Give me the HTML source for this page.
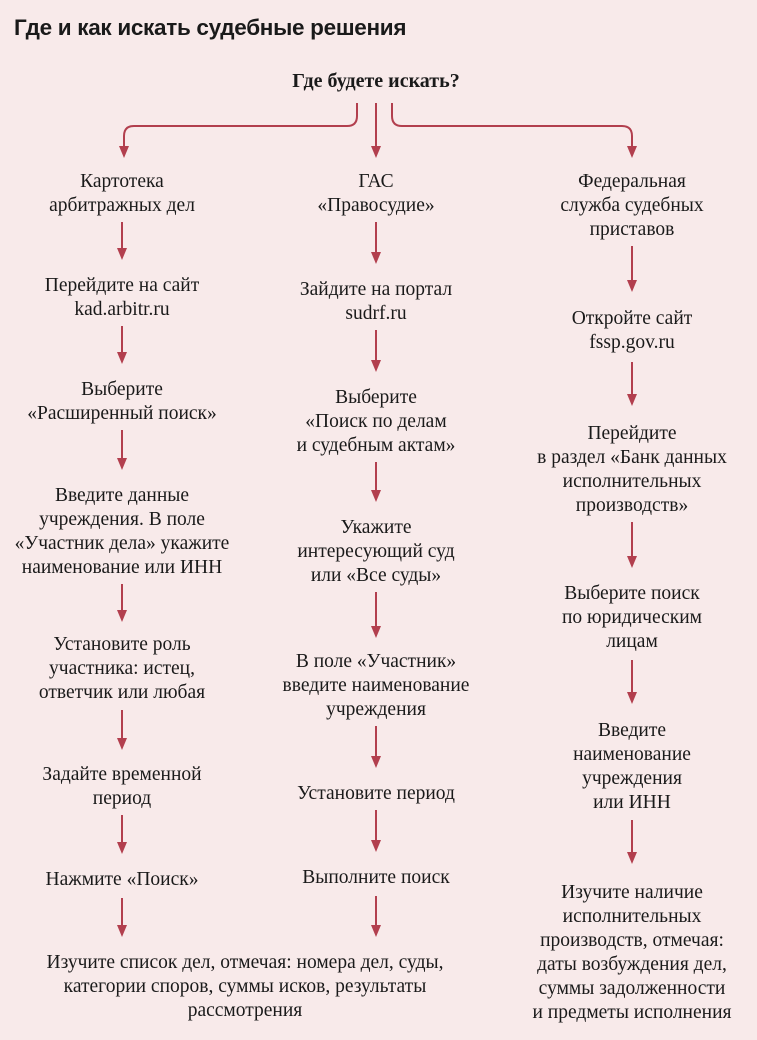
<!DOCTYPE html>
<html><head><meta charset="utf-8"><style>
html,body{margin:0;padding:0}
body{width:757px;height:1040px;background:#f8eaea;position:relative;overflow:hidden;font-family:"Liberation Serif",serif;color:#1a1a1a}
.t{position:absolute;font-family:"Liberation Sans",sans-serif;font-weight:bold;font-size:22.5px;left:14px;top:15px;letter-spacing:-0.3px}
.b{position:absolute;width:300px;text-align:center;font-size:19.5px;line-height:24px;white-space:nowrap}
svg{position:absolute;left:0;top:0}
</style></head><body>
<div class="t">Где и как искать судебные решения</div>
<div class="b" style="left:226px;top:69px;font-weight:bold;font-size:20px">Где будете искать?</div>
<svg width="757" height="1040">
<g stroke="#b23f4e" stroke-width="2" fill="none">
<path d="M357,103 V116 Q357,126 347,126 H134 Q124,126 124,136 V146"/>
<path d="M392,103 V116 Q392,126 402,126 H622 Q632,126 632,136 V146"/>
<line x1="376" y1="103" x2="376" y2="146"/>
<line x1="122" y1="222" x2="122" y2="248"/>
<line x1="122" y1="326" x2="122" y2="352"/>
<line x1="122" y1="430" x2="122" y2="458"/>
<line x1="122" y1="584" x2="122" y2="610"/>
<line x1="122" y1="710" x2="122" y2="738"/>
<line x1="122" y1="815" x2="122" y2="842"/>
<line x1="122" y1="898" x2="122" y2="925"/>
<line x1="376" y1="222" x2="376" y2="252"/>
<line x1="376" y1="330" x2="376" y2="360"/>
<line x1="376" y1="462" x2="376" y2="490"/>
<line x1="376" y1="592" x2="376" y2="626"/>
<line x1="376" y1="726" x2="376" y2="756"/>
<line x1="376" y1="810" x2="376" y2="840"/>
<line x1="376" y1="896" x2="376" y2="925"/>
<line x1="632" y1="246" x2="632" y2="280"/>
<line x1="632" y1="362" x2="632" y2="394"/>
<line x1="632" y1="522" x2="632" y2="556"/>
<line x1="632" y1="660" x2="632" y2="692"/>
<line x1="632" y1="820" x2="632" y2="852"/>
</g>
<g fill="#b23f4e">
<path d="M119,146h10l-5,12z"/><path d="M371,146h10l-5,12z"/><path d="M627,146h10l-5,12z"/>
<path d="M117,248h10l-5,12z"/><path d="M117,352h10l-5,12z"/><path d="M117,458h10l-5,12z"/><path d="M117,610h10l-5,12z"/><path d="M117,738h10l-5,12z"/><path d="M117,842h10l-5,12z"/><path d="M117,925h10l-5,12z"/>
<path d="M371,252h10l-5,12z"/><path d="M371,360h10l-5,12z"/><path d="M371,490h10l-5,12z"/><path d="M371,626h10l-5,12z"/><path d="M371,756h10l-5,12z"/><path d="M371,840h10l-5,12z"/><path d="M371,925h10l-5,12z"/>
<path d="M627,280h10l-5,12z"/><path d="M627,394h10l-5,12z"/><path d="M627,556h10l-5,12z"/><path d="M627,692h10l-5,12z"/><path d="M627,852h10l-5,12z"/>
</g>
</svg>
<div class="b" style="left:-28px;top:170px">Картотека<br>арбитражных дел</div>
<div class="b" style="left:-28px;top:274px">Перейдите на сайт<br>kad.arbitr.ru</div>
<div class="b" style="left:-28px;top:378px">Выберите<br>«Расширенный поиск»</div>
<div class="b" style="left:-28px;top:484px">Введите данные<br>учреждения. В поле<br>«Участник дела» укажите<br>наименование или ИНН</div>
<div class="b" style="left:-28px;top:633px">Установите роль<br>участника: истец,<br>ответчик или любая</div>
<div class="b" style="left:-28px;top:763px">Задайте временной<br>период</div>
<div class="b" style="left:-28px;top:868px">Нажмите «Поиск»</div>
<div class="b" style="left:45px;top:951px;width:400px">Изучите список дел, отмечая: номера дел, суды,<br>категории споров, суммы исков, результаты<br>рассмотрения</div>
<div class="b" style="left:226px;top:170px">ГАС<br>«Правосудие»</div>
<div class="b" style="left:226px;top:278px">Зайдите на портал<br>sudrf.ru</div>
<div class="b" style="left:226px;top:386px">Выберите<br>«Поиск по делам<br>и судебным актам»</div>
<div class="b" style="left:226px;top:516px">Укажите<br>интересующий суд<br>или «Все суды»</div>
<div class="b" style="left:226px;top:650px">В поле «Участник»<br>введите наименование<br>учреждения</div>
<div class="b" style="left:226px;top:782px">Установите период</div>
<div class="b" style="left:226px;top:866px">Выполните поиск</div>
<div class="b" style="left:482px;top:170px">Федеральная<br>служба судебных<br>приставов</div>
<div class="b" style="left:482px;top:307px">Откройте сайт<br>fssp.gov.ru</div>
<div class="b" style="left:482px;top:422px">Перейдите<br>в раздел «Банк данных<br>исполнительных<br>производств»</div>
<div class="b" style="left:482px;top:582px">Выберите поиск<br>по юридическим<br>лицам</div>
<div class="b" style="left:482px;top:719px">Введите<br>наименование<br>учреждения<br>или ИНН</div>
<div class="b" style="left:482px;top:881px">Изучите наличие<br>исполнительных<br>производств, отмечая:<br>даты возбуждения дел,<br>суммы задолженности<br>и предметы исполнения</div>
</body></html>
